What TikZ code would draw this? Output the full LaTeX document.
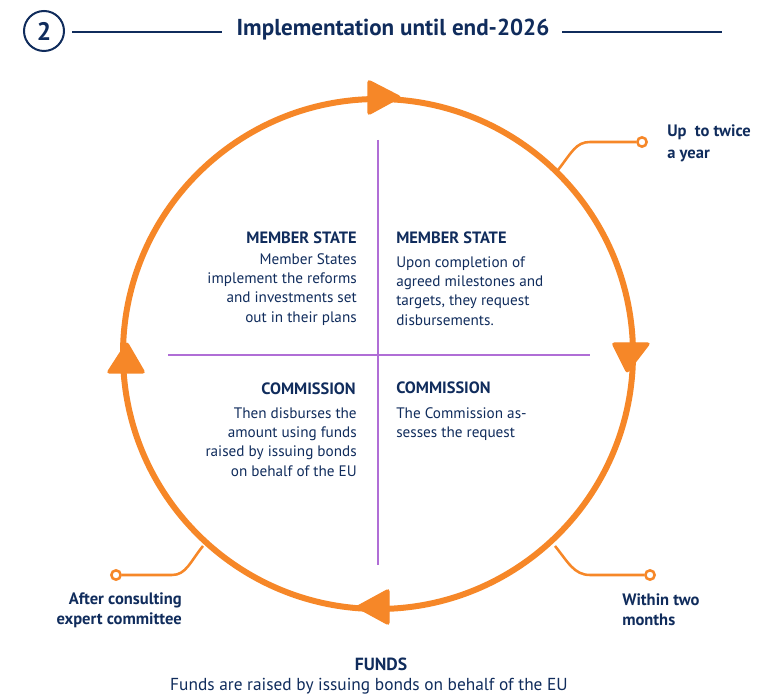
\documentclass[tikz,border=0pt]{standalone}
\usepackage{fontspec}
\setmainfont{PT Sans}
\definecolor{navy}{RGB}{16,44,92}
\definecolor{orng}{RGB}{246,135,40}
\definecolor{purp}{RGB}{176,110,214}
\begin{document}
\begin{tikzpicture}[x=0.75pt,y={(0pt,-0.75pt)},
  txt/.style={inner sep=0pt, text=navy, font=\fontsize{11.4}{14.5}\selectfont},
  hdr/.style={inner sep=0pt, text=navy, font=\fontsize{12.3}{14.5}\selectfont\bfseries},
  lbl/.style={inner sep=0pt, text=navy, font=\fontsize{12.4}{15}\selectfont\bfseries},
  ring/.style={circle, draw=orng, line width=1.9pt, fill=white, minimum size=7pt, inner sep=0pt},
  conn/.style={draw=orng, line width=1.9pt},
  tip/.style={fill=orng, draw=orng, line width=1pt, rounded corners=2pt},
  cross/.style={draw=purp, line width=1.5pt},
  hline/.style={draw=navy, line width=0.9pt}]
\useasboundingbox (0,0) rectangle (757,698);

% header
\node[circle, draw=navy, line width=1.5pt, minimum size=30pt, inner sep=0pt,
      text=navy, font=\fontsize{19}{19}\selectfont\bfseries] (num) at (44,31) {2};
\node[inner sep=0pt, text=navy, font=\fontsize{17.3}{19}\selectfont\bfseries] (title) at (393,30) {Implementation until end-2026};
\coordinate (hl1) at (72,32); \coordinate (hl2) at (222,32);
\coordinate (hr1) at (562,32); \coordinate (hr2) at (722,32);
\draw[hline] (hl1) -- (hl2);
\draw[hline] (hr1) -- (hr2);

% cross
\coordinate (vt) at (378,140); \coordinate (vb) at (378,565);
\coordinate (hlft) at (168,355); \coordinate (hrt) at (590,355);
\draw[cross] (vt) -- (vb);
\draw[cross] (hlft) -- (hrt);

% circle
\coordinate (c) at (378,354);
\draw[orng, line width=4.5pt] (c) circle[radius=255];

% arrow heads
\draw[tip] (368,80) -- (401,97) -- (368,115) -- cycle;
\draw[tip] (612,343) -- (650,343) -- (627,373) -- cycle;
\draw[tip] (107,373) -- (145,373) -- (127,342) -- cycle;
\draw[tip] (389,589) -- (356,607) -- (389,625) -- cycle;

% connectors
\coordinate (j1) at (558,170);
\coordinate (j2) at (555,546);
\coordinate (j3) at (203,546);
\node[ring] (r1) at (642,142) {};
\node[ring] (r2) at (650,575) {};
\node[ring] (r3) at (116,575) {};
\draw[conn] (j1) .. controls (572,152) and (576,142) .. (590,142) -- (r1);
\draw[conn] (j2) .. controls (568,562) and (574,575) .. (590,575) -- (r2);
\draw[conn] (j3) .. controls (190,562) and (186,575) .. (172,575) -- (r3);

% labels
\node[lbl, anchor=north west, align=left] (l1) at (667,124) {Up\ \ to twice\\[1.5pt]a year};
\node[lbl, anchor=north west, align=left] (l2) at (622,593) {Within two\\months};
\node[lbl, anchor=north east, align=right] (l3) at (182,592) {After consulting\\expert committee};

% quadrants
\node[hdr, anchor=east] (h1) at (357,238) {MEMBER STATE};
\node[txt, anchor=north east, align=right] (b1) at (357,253) {Member States\\implement the reforms\\and investments set\\out in their plans};
\node[hdr, anchor=west] (h2) at (396,238) {MEMBER STATE};
\node[txt, anchor=north west, align=left] (b2) at (396,256) {Upon completion of\\agreed milestones and\\targets, they request\\disbursements.};
\node[hdr, anchor=east] (h3) at (356,389) {COMMISSION};
\node[txt, anchor=north east, align=right] (b3) at (357,407) {Then disburses the\\amount using funds\\raised by issuing bonds\\on behalf of the EU};
\node[hdr, anchor=west] (h4) at (396,388) {COMMISSION};
\node[txt, anchor=north west, align=left] (b4) at (396,407) {The Commission as-\\sesses the request};

% funds
\node[inner sep=0pt, text=navy, font=\fontsize{13.2}{15}\selectfont\bfseries] (fh) at (381,664) {FUNDS};
\node[inner sep=0pt, text=navy, font=\fontsize{13}{15}\selectfont] (fb) at (369,686) {Funds are raised by issuing bonds on behalf of the EU};
\end{tikzpicture}
\end{document}
